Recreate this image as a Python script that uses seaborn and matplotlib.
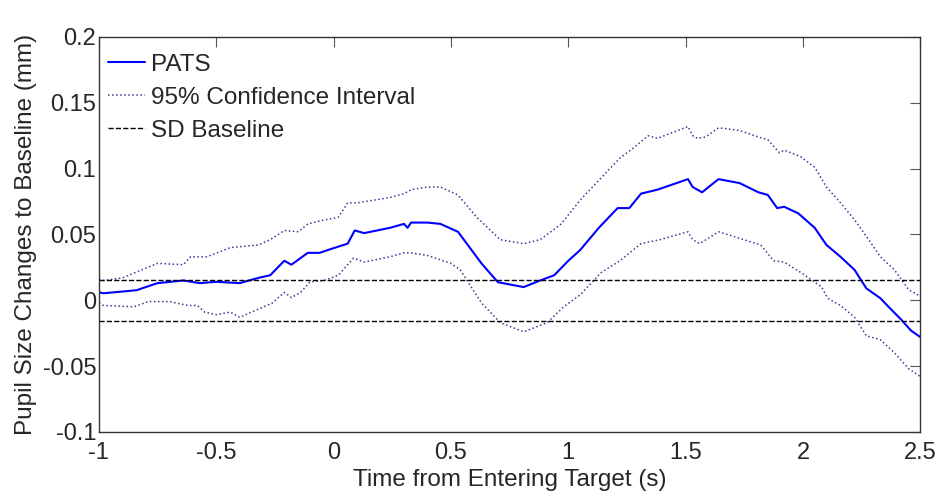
import numpy as np
import pandas as pd
import matplotlib
matplotlib.use("Agg")
import matplotlib.pyplot as plt
import seaborn as sns

# mean pupil change (PATS)
t_mean = [-1.0, -0.98, -0.84, -0.75, -0.64, -0.57, -0.50, -0.40, -0.32, -0.27, -0.21, -0.18,
          -0.11, -0.06, -0.01, 0.06, 0.09, 0.13, 0.24, 0.30, 0.315, 0.33, 0.40, 0.455, 0.53,
          0.63, 0.70, 0.75, 0.81, 0.88, 0.94, 1.00, 1.05, 1.13, 1.21, 1.26, 1.31, 1.38, 1.51,
          1.53, 1.57, 1.64, 1.73, 1.81, 1.85, 1.89, 1.92, 1.98, 2.05, 2.10, 2.16, 2.22, 2.27,
          2.33, 2.37, 2.42, 2.46, 2.50]
pats = [0.006, 0.0053, 0.0076, 0.013, 0.015, 0.013, 0.014, 0.013, 0.017, 0.019, 0.030, 0.027,
        0.036, 0.036, 0.039, 0.043, 0.053, 0.051, 0.055, 0.058, 0.055, 0.059, 0.059, 0.058, 0.052,
        0.028, 0.0137, 0.012, 0.010, 0.015, 0.019, 0.030, 0.038, 0.055, 0.070, 0.070, 0.081, 0.084, 0.092,
        0.086, 0.082, 0.092, 0.089, 0.082, 0.080, 0.070, 0.071, 0.066, 0.055, 0.042, 0.033, 0.023, 0.009,
        0.0015, -0.006, -0.015, -0.023, -0.028]

# upper 95% CI
t_upper = [-1.0, -0.98, -0.90, -0.75, -0.64, -0.61, -0.54, -0.44, -0.32, -0.27, -0.21, -0.15,
           -0.11, -0.04, 0.02, 0.06, 0.10, 0.24, 0.30, 0.33, 0.40, 0.455, 0.53, 0.61, 0.71,
           0.81, 0.88, 0.97, 1.05, 1.14, 1.22, 1.28, 1.34, 1.38, 1.51, 1.53, 1.55, 1.585, 1.64,
           1.73, 1.81, 1.85, 1.90, 1.92, 1.99, 2.05, 2.10, 2.16, 2.22, 2.28, 2.33, 2.39, 2.45, 2.50]
upper = [0.016, 0.015, 0.017, 0.028, 0.027, 0.033, 0.033, 0.040, 0.042, 0.046, 0.053, 0.052,
         0.058, 0.061, 0.063, 0.074, 0.074, 0.078, 0.081, 0.084, 0.086, 0.086, 0.080, 0.063, 0.046,
         0.043, 0.046, 0.058, 0.076, 0.093, 0.108, 0.116, 0.125, 0.123, 0.132, 0.125, 0.123, 0.124, 0.131,
         0.129, 0.124, 0.122, 0.112, 0.114, 0.109, 0.101, 0.086, 0.074, 0.061, 0.046, 0.033, 0.023, 0.008, 0.003]

# lower 95% CI
t_lower = [-1.0, -0.98, -0.85, -0.79, -0.70, -0.62, -0.58, -0.55, -0.50, -0.44, -0.40, -0.35,
           -0.31, -0.26, -0.21, -0.18, -0.14, -0.10, -0.04, 0.02, 0.085, 0.13, 0.24, 0.30, 0.33,
           0.40, 0.50, 0.54, 0.63, 0.71, 0.81, 0.91, 0.98, 1.05, 1.14, 1.22, 1.31, 1.39, 1.51,
           1.53, 1.56, 1.64, 1.73, 1.82, 1.875, 1.92, 2.00, 2.08, 2.105, 2.16, 2.22, 2.27, 2.33,
           2.39, 2.45, 2.50]
lower = [-0.002, -0.004, -0.005, -0.001, -0.001, -0.004, -0.004, -0.009, -0.011, -0.009, -0.013, -0.009,
         -0.006, -0.002, 0.006, 0.002, 0.006, 0.014, 0.015, 0.019, 0.032, 0.029, 0.033, 0.036, 0.036,
         0.034, 0.028, 0.023, -0.002, -0.017, -0.024, -0.017, -0.005, 0.004, 0.021, 0.030, 0.043, 0.046, 0.052,
         0.046, 0.043, 0.052, 0.047, 0.042, 0.030, 0.029, 0.020, 0.010, 0.0015, -0.004, -0.013, -0.027, -0.030,
         -0.040, -0.052, -0.058]

sd_baseline = 0.0155
x_ticks = [-1, -0.5, 0, 0.5, 1, 1.5, 2, 2.5]
y_ticks = [-0.1, -0.05, 0, 0.05, 0.1, 0.15, 0.2]

sns.set_style("white")
plt.rcParams['font.family'] = ['Liberation Sans', 'DejaVu Sans']

fig = plt.figure(figsize=(9.42, 4.93), dpi=100)
ax = fig.add_axes([0.105, 0.124, 0.872, 0.801])

ci_color = '#3a3a9a'
sns.lineplot(x=t_mean, y=pats, ax=ax, color='#0000ff', linewidth=1.5, label='PATS', sort=False)
sns.lineplot(x=t_upper, y=upper, ax=ax, color=ci_color, linewidth=1.1, linestyle=':',
             label='95% Confidence Interval', sort=False)
sns.lineplot(x=t_lower, y=lower, ax=ax, color=ci_color, linewidth=1.1, linestyle=':', sort=False)
ax.axhline(sd_baseline, color='black', linewidth=1.0, linestyle='--', label='SD Baseline')
ax.axhline(-sd_baseline, color='black', linewidth=1.0, linestyle='--')

ax.set_xlim(-1, 2.5)
ax.set_ylim(-0.1, 0.2)
ax.set_xticks(x_ticks)
ax.set_xticklabels([f'{v:g}' for v in x_ticks])
ax.set_yticks(y_ticks)
ax.set_yticklabels([f'{v:g}' for v in y_ticks])
ax.tick_params(direction='in', length=7, width=0.8, color='#555555', labelsize=17,
               top=True, right=True)
ax.tick_params(axis='x', pad=7)
ax.tick_params(axis='y', pad=2)
for s in ax.spines.values():
    s.set_color('#333333')
    s.set_linewidth(1.0)

ax.set_xlabel('Time from Entering Target (s)', fontsize=17.5, labelpad=4)
ax.set_ylabel('Pupil Size Changes to Baseline (mm)', fontsize=17.5, labelpad=4)

ax.legend(loc='upper left', bbox_to_anchor=(-0.01, 1.0), frameon=False, fontsize=17.5,
          handlelength=1.55, handletextpad=0.25, labelspacing=0.45, borderaxespad=0.5,
          borderpad=0.2)

fig.savefig('out.png', dpi=100)
